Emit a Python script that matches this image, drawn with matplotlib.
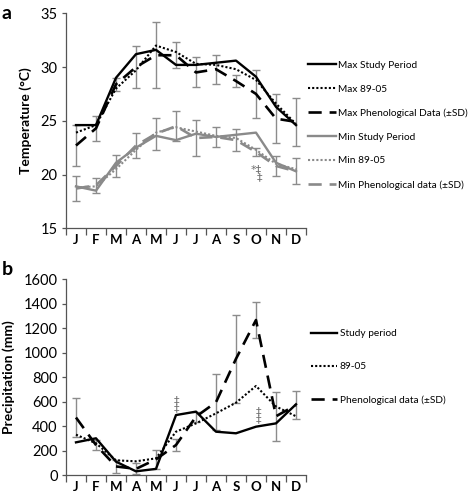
import numpy as np
import matplotlib
matplotlib.use('Agg')
import matplotlib.pyplot as plt

plt.rcParams['font.family'] = ['Lato', 'DejaVu Sans']

months = ['J', 'F', 'M', 'A', 'M', 'J', 'J', 'A', 'S', 'O', 'N', 'D']

# panel a - temperature
max_study = [24.6, 24.6, 29.0, 31.2, 31.6, 30.2, 30.2, 30.4, 30.6, 29.1, 26.3, 24.6]
max_8905 = [23.9, 24.6, 28.0, 29.7, 32.0, 31.4, 30.3, 30.2, 29.8, 28.8, 26.6, 24.7]
max_pheno = [22.7, 24.3, 28.4, 30.0, 31.1, 31.1, 29.5, 29.8, 28.7, 27.5, 25.2, 24.9]
max_pheno_sd = [1.9, 1.15, 0.6, 1.95, 3.05, 1.2, 1.4, 1.35, 0.6, 2.25, 2.3, 2.2]

min_study = [18.9, 18.5, 21.1, 22.5, 23.6, 23.2, 23.8, 23.5, 23.7, 23.9, 21.1, 20.3]
min_8905 = [18.8, 18.9, 20.5, 22.3, 23.9, 24.4, 24.0, 23.6, 23.4, 22.3, 21.0, 20.5]
min_pheno = [18.7, 19.0, 20.8, 22.7, 23.8, 24.5, 23.4, 23.5, 23.2, 22.1, 20.8, 20.3]
min_pheno_sd = [1.2, 0.7, 1.0, 1.15, 1.5, 1.4, 1.65, 0.9, 1.0, 0.4, 0.9, 1.2]

# panel b - precipitation
precip_study = [267, 300, 109, 30, 50, 490, 518, 354, 341, 395, 422, 578]
precip_8905 = [330, 259, 120, 112, 136, 354, 422, 504, 591, 728, 560, 480]
precip_pheno = [470, 245, 70, 50, 128, 245, 477, 595, 950, 1267, 480, 572]
precip_pheno_sd = [160, 40, 55, 45, 80, 52, 40, 228, 358, 150, 200, 113]

GRAY = '#8a8a8a'
ERR = '#8c8c8c'
dotted = (0, (1, 1))
dashed = (0, (5, 3))

fig = plt.figure(figsize=(4.72, 4.95), dpi=100)
ax1 = fig.add_axes([0.1398, 0.5388, 0.5085, 0.4343])
ax2 = fig.add_axes([0.1398, 0.0404, 0.5085, 0.3954])

x = np.arange(len(months))


def style_axis(ax):
    ax.spines['top'].set_visible(False)
    ax.spines['right'].set_visible(False)
    for s in ['left', 'bottom']:
        ax.spines[s].set_color('#555555')
        ax.spines[s].set_linewidth(0.9)
    ax.set_xlim(-0.5, 11.5)
    ax.set_xticks(np.arange(-0.5, 12, 1))
    ax.set_xticklabels([])
    ax.set_xticks(x, minor=True)
    ax.set_xticklabels(months, minor=True, fontsize=9.5, fontweight='bold')
    ax.tick_params(axis='x', which='major', length=5, color='#555555', width=0.9)
    ax.tick_params(axis='x', which='minor', length=0, pad=4)
    ax.tick_params(axis='y', length=3, color='#555555', width=0.9, labelsize=10.5, pad=3)


ax1.errorbar(x, max_pheno, yerr=max_pheno_sd, fmt='none', ecolor=ERR, elinewidth=1, capsize=3, capthick=1)
ax1.errorbar(x, min_pheno, yerr=min_pheno_sd, fmt='none', ecolor=ERR, elinewidth=1, capsize=3, capthick=1)
ax1.plot(x, max_study, color='black', lw=1.7, label='Max Study Period')
ax1.plot(x, max_8905, color='black', lw=1.5, linestyle=dotted, label='Max 89-05')
ax1.plot(x, max_pheno, color='black', lw=1.9, linestyle=dashed, label='Max Phenological Data (±SD)')
ax1.plot(x, min_study, color=GRAY, lw=1.7, label='Min Study Period')
ax1.plot(x, min_8905, color=GRAY, lw=1.5, linestyle=dotted, label='Min 89-05')
ax1.plot(x, min_pheno, color=GRAY, lw=1.9, linestyle=dashed, label='Min Phenological data (±SD)')
ax1.text(9, 20.1, '*‡\n  ‡', color='#6f6f6f', fontsize=8, ha='center', va='center', linespacing=0.8,
         family=['DejaVu Sans'])
ax1.set_ylim(15, 35)
ax1.set_yticks([15, 20, 25, 30, 35])
ax1.set_ylabel('Temperature (°C)', fontsize=10, fontweight='bold', labelpad=6)
style_axis(ax1)
ax1.legend(loc='upper left', bbox_to_anchor=(1.008, 0.78), frameon=False, fontsize=7.3,
           handlelength=2.8, handletextpad=0.2, labelspacing=1.45, borderpad=0, borderaxespad=0)

ax2.errorbar(x, precip_pheno, yerr=precip_pheno_sd, fmt='none', ecolor=ERR, elinewidth=1, capsize=3, capthick=1)
ax2.plot(x, precip_study, color='black', lw=1.7, label='Study period')
ax2.plot(x, precip_8905, color='black', lw=1.5, linestyle=dotted, label='89-05')
ax2.plot(x, precip_pheno, color='black', lw=1.9, linestyle=dashed, label='Phenological data (±SD)')
ax2.text(5, 580, '‡\n‡', color='#6f6f6f', fontsize=8, ha='center', va='center', linespacing=0.75,
         family=['DejaVu Sans'])
ax2.text(9.1, 485, '‡\n‡', color='#6f6f6f', fontsize=8, ha='center', va='center', linespacing=0.75,
         family=['DejaVu Sans'])
ax2.set_ylim(0, 1600)
ax2.set_yticks(np.arange(0, 1601, 200))
ax2.set_ylabel('Precipitation (mm)', fontsize=10, fontweight='bold', labelpad=6)
style_axis(ax2)
ax2.legend(loc='upper left', bbox_to_anchor=(1.021, 0.745), frameon=False, fontsize=7.3,
           handlelength=2.6, handletextpad=0.25, labelspacing=2.35, borderpad=0, borderaxespad=0)

fig.text(0.004, 0.99, 'a', fontsize=14, fontweight='bold', va='top')
fig.text(0.004, 0.472, 'b', fontsize=14, fontweight='bold', va='top')

fig.savefig('out.png', dpi=100)
